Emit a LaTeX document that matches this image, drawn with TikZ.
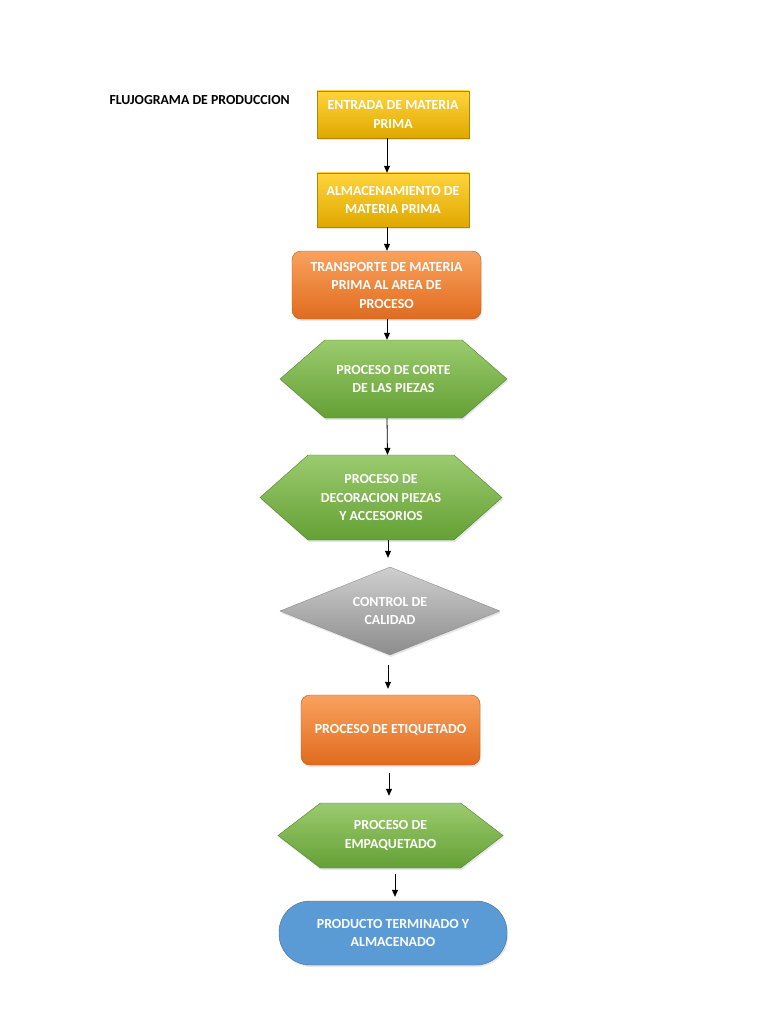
\documentclass[tikz,border=0pt]{standalone}
\usepackage{fontspec}
\setmainfont{Carlito}
\usetikzlibrary{arrows.meta,shapes.geometric,shapes.symbols,shadows}

\definecolor{amarilloA}{HTML}{FFD43B}
\definecolor{amarilloB}{HTML}{FFC000}
\definecolor{amarilloC}{HTML}{E0A800}
\definecolor{naranjaA}{HTML}{F9A25E}
\definecolor{naranjaB}{HTML}{F4812F}
\definecolor{naranjaC}{HTML}{E06B1E}
\definecolor{verdeA}{HTML}{9BCB6E}
\definecolor{verdeB}{HTML}{7AB648}
\definecolor{verdeC}{HTML}{64A035}
\definecolor{grisA}{HTML}{CFCFCF}
\definecolor{grisB}{HTML}{ABABAB}
\definecolor{grisC}{HTML}{8C8C8C}
\definecolor{azul}{HTML}{5B9BD5}

\tikzset{
    paso/.style={font=\bfseries\fontsize{13.9}{18.5}\selectfont, text=white, align=center,
        inner sep=0pt, drop shadow={opacity=0.2, shadow xshift=1pt, shadow yshift=-2pt}},
    amarillo/.style={paso, rectangle, draw=amarilloC!80!black, top color=amarilloA, middle color=amarilloB, bottom color=amarilloC},
    naranja/.style={paso, rectangle, rounded corners=9pt, draw=naranjaC!80!black, top color=naranjaA, middle color=naranjaB, bottom color=naranjaC},
    verde/.style={paso, signal, signal to=west and east, draw=verdeC!80!black, top color=verdeA, middle color=verdeB, bottom color=verdeC},
    gris/.style={paso, diamond, aspect=2.5, draw=grisC, top color=grisA, middle color=grisB, bottom color=grisC},
    azulfin/.style={paso, rectangle, rounded corners=31pt, draw=azul!70!black, fill=azul},
}

\begin{document}
\begin{tikzpicture}[x=1pt,y=-1pt]
    \useasboundingbox (0,0) rectangle (768,1024);
    \node[anchor=west, font=\bfseries\fontsize{13.8}{16}\selectfont] (0) at (106,100) {FLUJOGRAMA DE PRODUCCION};

    \node[amarillo, minimum width=152pt, minimum height=47pt] (1) at (393,114.5) {ENTRADA DE MATERIA\\PRIMA};
    \node[amarillo, minimum width=152pt, minimum height=54pt] (2) at (393,200) {ALMACENAMIENTO DE\\MATERIA PRIMA};
    \node[naranja, minimum width=189pt, minimum height=68pt] (3) at (386.5,285) {TRANSPORTE DE MATERIA\\PRIMA AL AREA DE\\PROCESO};
    \node[verde, signal pointer angle=82, minimum width=227pt, minimum height=78pt] (4) at (393.5,379) {PROCESO DE CORTE\\DE LAS PIEZAS};
    \node[verde, signal pointer angle=83, minimum width=242pt, minimum height=85pt] (5) at (381,497.5) {PROCESO DE\\DECORACION PIEZAS\\Y ACCESORIOS};
    \node[gris, minimum width=220pt, minimum height=88pt] (6) at (390,611) {CONTROL DE\\CALIDAD};
    \node[naranja, minimum width=179pt, minimum height=70pt] (7) at (390.5,730) {PROCESO DE ETIQUETADO};
    \node[verde, signal pointer angle=75, minimum width=225pt, minimum height=65pt] (8) at (390.5,835.5) {PROCESO DE\\EMPAQUETADO};
    \node[azulfin, minimum width=228pt, minimum height=64pt] (9) at (393,933) {PRODUCTO TERMINADO Y\\ALMACENADO};

    \path[-{Triangle[length=7pt,width=6pt]}, black, thick]
    ([xshift=-6pt]1.south) edge ([xshift=-6pt]2.north)
    ([xshift=-6pt]2.south) edge ([xshift=0.5pt]3.north)
    ([xshift=0.5pt]3.south) edge ([xshift=-6.5pt]4.north)
    ([xshift=-6.5pt]4.south) edge ([xshift=6.5pt]5.north)
    ([xshift=7pt]5.south) edge [shorten >=9pt] ([xshift=-2pt]6.north)
    ([xshift=-2pt]6.south) edge [shorten <=10pt, shorten >=6pt] ([xshift=-2.5pt]7.north)
    ([xshift=-1.5pt]7.south) edge [shorten <=8pt, shorten >=7pt] ([xshift=-1.5pt]8.north)
    ([xshift=4.5pt]8.south) edge [shorten <=6pt, shorten >=4pt] ([xshift=2pt]9.north);
\end{tikzpicture}
\end{document}
